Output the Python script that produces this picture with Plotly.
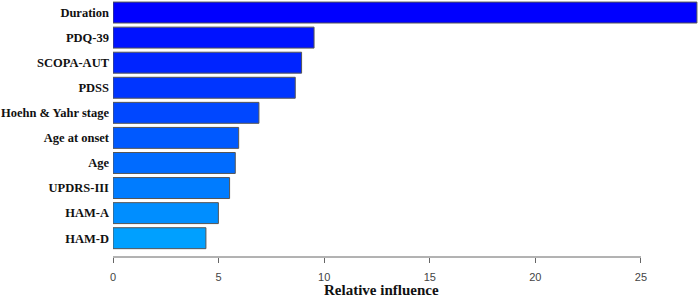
import plotly.graph_objects as go

# Data (top to bottom)
features = ["Duration", "PDQ-39", "SCOPA-AUT", "PDSS", "Hoehn & Yahr stage",
            "Age at onset", "Age", "UPDRS-III", "HAM-A", "HAM-D"]
rel_influence = [27.65, 9.52, 8.93, 8.63, 6.91, 5.95, 5.79, 5.52, 4.99, 4.40]
x_ticks = [0, 5, 10, 15, 20, 25]
x_title = "Relative influence"

# gradient colours: blue (top) -> light blue (bottom)
n = len(features)
bar_colors = ["rgb(0,%d,255)" % round(160 * i / (n - 1)) for i in range(n)]

fig = go.Figure()
fig.add_trace(go.Bar(
    x=rel_influence, y=features, orientation="h",
    marker=dict(color=bar_colors, line=dict(color="#555555", width=1)),
    width=0.835, hoverinfo="x+y",
))

fig.update_layout(
    width=699, height=299,
    margin=dict(l=113, r=1, t=0, b=42, autoexpand=False),
    paper_bgcolor="white", plot_bgcolor="white",
    showlegend=False,
    xaxis=dict(range=[0, 27.7], tickvals=x_ticks, ticks="outside", ticklen=5,
               tickcolor="#666666", tickwidth=1, showline=False, showgrid=False,
               zeroline=False, automargin=False, ticklabelstandoff=5,
               tickfont=dict(family="Liberation Sans, Arial, sans-serif", size=11, color="#444444")),
    yaxis=dict(type="category", categoryorder="array", categoryarray=features,
               range=[9.75, -0.5], showgrid=False, zeroline=False, showline=False,
               ticks="", ticklabelstandoff=3, automargin=False,
               tickfont=dict(family="Liberation Serif, Times New Roman, serif", size=12.5,
                             color="#111111", weight="bold")),
    annotations=[dict(text="<b>%s</b>" % x_title,
                      x=(381 - 113) / 585, y=-(290 - 257) / 257,
                      xref="paper", yref="paper", xanchor="center", yanchor="middle",
                      showarrow=False,
                      font=dict(family="Liberation Serif, Times New Roman, serif", size=15,
                                color="#111111"))],
)
# axis line only from 0 to 25 as in the original
fig.add_shape(type="line", xref="x", yref="paper", x0=x_ticks[0], x1=x_ticks[-1],
              y0=0, y1=0, line=dict(color="#666666", width=1))

fig.write_html("out.html", config={"displayModeBar": False},
               post_script="document.body.style.margin='0';document.body.style.overflow='hidden';")
